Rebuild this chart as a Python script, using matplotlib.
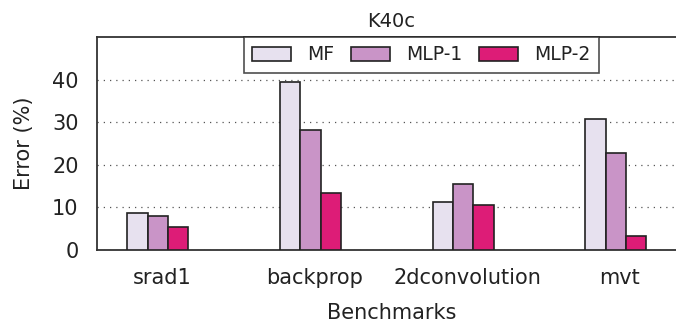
import matplotlib
matplotlib.use("Agg")
import matplotlib.pyplot as plt
import numpy as np

benchmarks = ["srad1", "backprop", "2dconvolution", "mvt"]
series_names = ["MF", "MLP-1", "MLP-2"]
mf_error = [8.8, 39.4, 11.2, 30.8]
mlp1_error = [8.0, 28.2, 15.4, 22.8]
mlp2_error = [5.4, 13.3, 10.5, 3.3]
y_ticks = [0, 10, 20, 30, 40]

colors = ["#e7e1ef", "#c994c7", "#dd1c77"]
text_color = "#222222"

plt.rcParams["font.family"] = "DejaVu Sans"
plt.rcParams["font.size"] = 15
plt.rcParams["text.color"] = text_color
plt.rcParams["axes.labelcolor"] = text_color
plt.rcParams["xtick.color"] = text_color
plt.rcParams["ytick.color"] = text_color

fig = plt.figure(figsize=(6.76, 3.27), dpi=100)
# plot area runs slightly past the right edge of the canvas
ax = fig.add_axes([96.7 / 676, 1 - 250 / 327, (686 - 96.7) / 676, (250 - 37) / 327])

x = np.arange(len(benchmarks))
width = 0.133
for i, (name, vals) in enumerate(zip(series_names, [mf_error, mlp1_error, mlp2_error])):
    ax.bar(x + (i - 1) * width, vals, width, color=colors[i], edgecolor="#222222",
           linewidth=1.2, label=name, zorder=3)

ax.set_xlim(-0.4, 3.46)
ax.set_ylim(0, 50)
ax.set_yticks(y_ticks)
ax.set_xticks(x + 0.027)
ax.set_xticklabels(benchmarks)
ax.tick_params(axis="x", length=0, pad=13)
ax.tick_params(axis="y", length=0, pad=13)
ax.yaxis.grid(True, linestyle=(0, (1, 4)), color="#555555", linewidth=0.9, zorder=0)

for side in ["left", "top", "bottom"]:
    ax.spines[side].set_color("#333333")
    ax.spines[side].set_linewidth(1.3)
ax.spines["right"].set_visible(False)

ax.set_ylabel("Error (%)", labelpad=13)
ax.set_xlabel("Benchmarks", labelpad=11)
ax.set_title("K40c", fontsize=14, pad=7)

leg = ax.legend(loc="upper left", bbox_to_anchor=(244 / 676, 1 - 37 / 327),
                bbox_transform=fig.transFigure, ncol=3, frameon=True, fancybox=False,
                borderaxespad=0, borderpad=0.45, handlelength=2.08, handleheight=0.72,
                handletextpad=0.85, columnspacing=0.9, fontsize=13.5)
leg.get_frame().set_edgecolor("#222222")
leg.get_frame().set_linewidth(1.2)

fig.savefig("out.png", dpi=100)
